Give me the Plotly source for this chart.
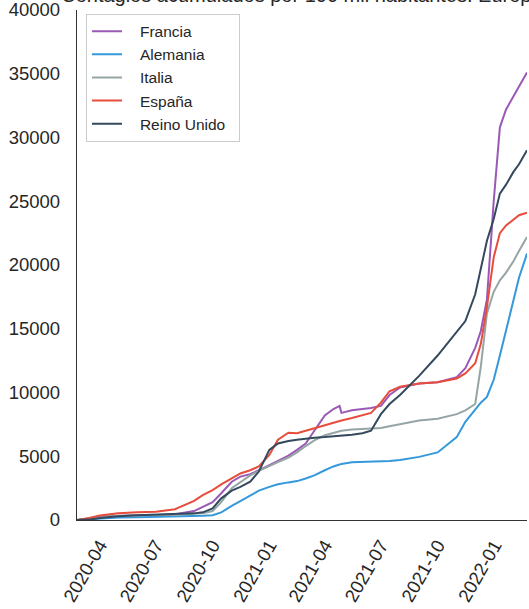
import plotly.graph_objects as go

dates = ["2020-02-24", "2020-03-15", "2020-04-01", "2020-05-01", "2020-06-01", "2020-07-01",
         "2020-08-01", "2020-09-01", "2020-09-15", "2020-10-01", "2020-10-15", "2020-11-01",
         "2020-11-15", "2020-12-01", "2020-12-15", "2021-01-01", "2021-01-15", "2021-02-01",
         "2021-02-15", "2021-03-01", "2021-03-15", "2021-04-01", "2021-04-15", "2021-04-25",
         "2021-04-28", "2021-05-15", "2021-06-01", "2021-06-15", "2021-07-01", "2021-07-15",
         "2021-08-01", "2021-09-01", "2021-10-01", "2021-11-01", "2021-11-15", "2021-12-01",
         "2021-12-10", "2021-12-20", "2021-12-31", "2022-01-10", "2022-01-20", "2022-02-01",
         "2022-02-10", "2022-02-23"]

francia = [0, 80, 250, 330, 370, 400, 460, 700, 1000, 1400, 2100, 3000, 3400, 3600, 3900, 4300,
           4650, 5050, 5500, 6000, 7000, 8200, 8700, 8950, 8400, 8600, 8700, 8780, 8950, 9800,
           10400, 10700, 10800, 11200, 11900, 13500, 14800, 17300, 25000, 30800, 32200, 33300,
           34000, 35100]
alemania = [0, 60, 150, 200, 220, 240, 260, 300, 330, 380, 600, 1100, 1500, 1900, 2300, 2600,
            2800, 2950, 3050, 3250, 3500, 3900, 4200, 4350, 4400, 4520, 4550, 4560, 4580, 4620,
            4700, 4950, 5300, 6500, 7700, 8700, 9200, 9650, 11000, 12900, 14900, 17200, 19000,
            20900]
italia = [0, 150, 250, 330, 380, 400, 410, 450, 520, 700, 1400, 2500, 3000, 3500, 3850, 4250,
          4550, 4900, 5300, 5800, 6250, 6650, 6850, 6950, 7000, 7100, 7150, 7200, 7220, 7350,
          7500, 7800, 7950, 8300, 8600, 9100, 12000, 16200, 17900, 18800, 19400, 20300, 21100,
          22200]
espana = [0, 150, 350, 530, 600, 640, 850, 1500, 1950, 2350, 2800, 3300, 3650, 3900, 4200, 5100,
          6300, 6850, 6800, 7000, 7200, 7400, 7600, 7750, 7800, 8000, 8200, 8400, 9200, 10100,
          10450, 10700, 10800, 11100, 11500, 12300, 13800, 16700, 20600, 22500, 23100, 23600,
          23900, 24100]
reino_unido = [0, 30, 150, 300, 380, 420, 450, 520, 600, 900, 1700, 2300, 2600, 3000, 3800, 5500,
               6000, 6200, 6300, 6400, 6450, 6500, 6550, 6600, 6600, 6680, 6800, 7000, 8300, 9100,
               9800, 11300, 12900, 14800, 15600, 17700, 19600, 21900, 23600, 25600, 26300, 27300,
               27900, 29000]

series_names = ["Francia", "Alemania", "Italia", "España", "Reino Unido"]
series_values = [francia, alemania, italia, espana, reino_unido]
series_colors = ["#9b59b6", "#3498db", "#95a5a6", "#e74c3c", "#34495e"]

y_ticks = [0, 5000, 10000, 15000, 20000, 25000, 30000, 35000, 40000]
x_ticks = ["2020-04-01", "2020-07-01", "2020-10-01", "2021-01-01", "2021-04-01",
           "2021-07-01", "2021-10-01", "2022-01-01"]
x_tick_labels = ["2020-04", "2020-07", "2020-10", "2021-01", "2021-04", "2021-07", "2021-10", "2022-01"]

fig = go.Figure()
for name, vals, col in zip(series_names, series_values, series_colors):
    fig.add_trace(go.Scatter(x=dates, y=vals, mode="lines",
                             name="\u00a0\u00a0\u00a0" + name + "\u00a0\u00a0",
                             line=dict(color=col, width=2)))

font_family = "Liberation Sans, Arial, sans-serif"
fig.update_layout(
    width=529, height=609,
    margin=dict(l=77, r=2, t=10, b=89, autoexpand=False),
    paper_bgcolor="white", plot_bgcolor="white",
    font=dict(family=font_family, color="#262626"),
    title=dict(text="Contagios acumulados por 100 mil habitantes: Europa",
               x=0.5707, xanchor="center", y=1 - 2 / 609, yanchor="bottom",
               font=dict(size=20, color="#262626")),
    showlegend=True,
    legend=dict(x=0.02, y=0.993, xanchor="left", yanchor="top",
                bgcolor="white", bordercolor="#cccccc", borderwidth=1,
                font=dict(size=15.5, color="#262626"), tracegroupgap=0,
                itemwidth=30),
)
fig.update_xaxes(
    range=["2020-02-24", "2022-02-23"],
    tickvals=x_ticks, ticktext=x_tick_labels, tickangle=-60,
    tickfont=dict(size=18.5), showgrid=False, zeroline=False,
    showline=True, linecolor="#333333", linewidth=1.3, ticks="",
    ticklabelstandoff=6, automargin=False, ticklabeloverflow="allow",
)
fig.update_yaxes(
    range=[0, 40000], tickvals=y_ticks, tickformat="d",
    tickfont=dict(size=18.5), showgrid=False, zeroline=False,
    showline=True, linecolor="#333333", linewidth=1.3, ticks="",
    ticklabelstandoff=12, automargin=False, ticklabeloverflow="allow",
)
fig.write_html("out.html", config={"displayModeBar": False},
               post_script="document.body.style.margin='0px';document.body.style.overflow='hidden';")
